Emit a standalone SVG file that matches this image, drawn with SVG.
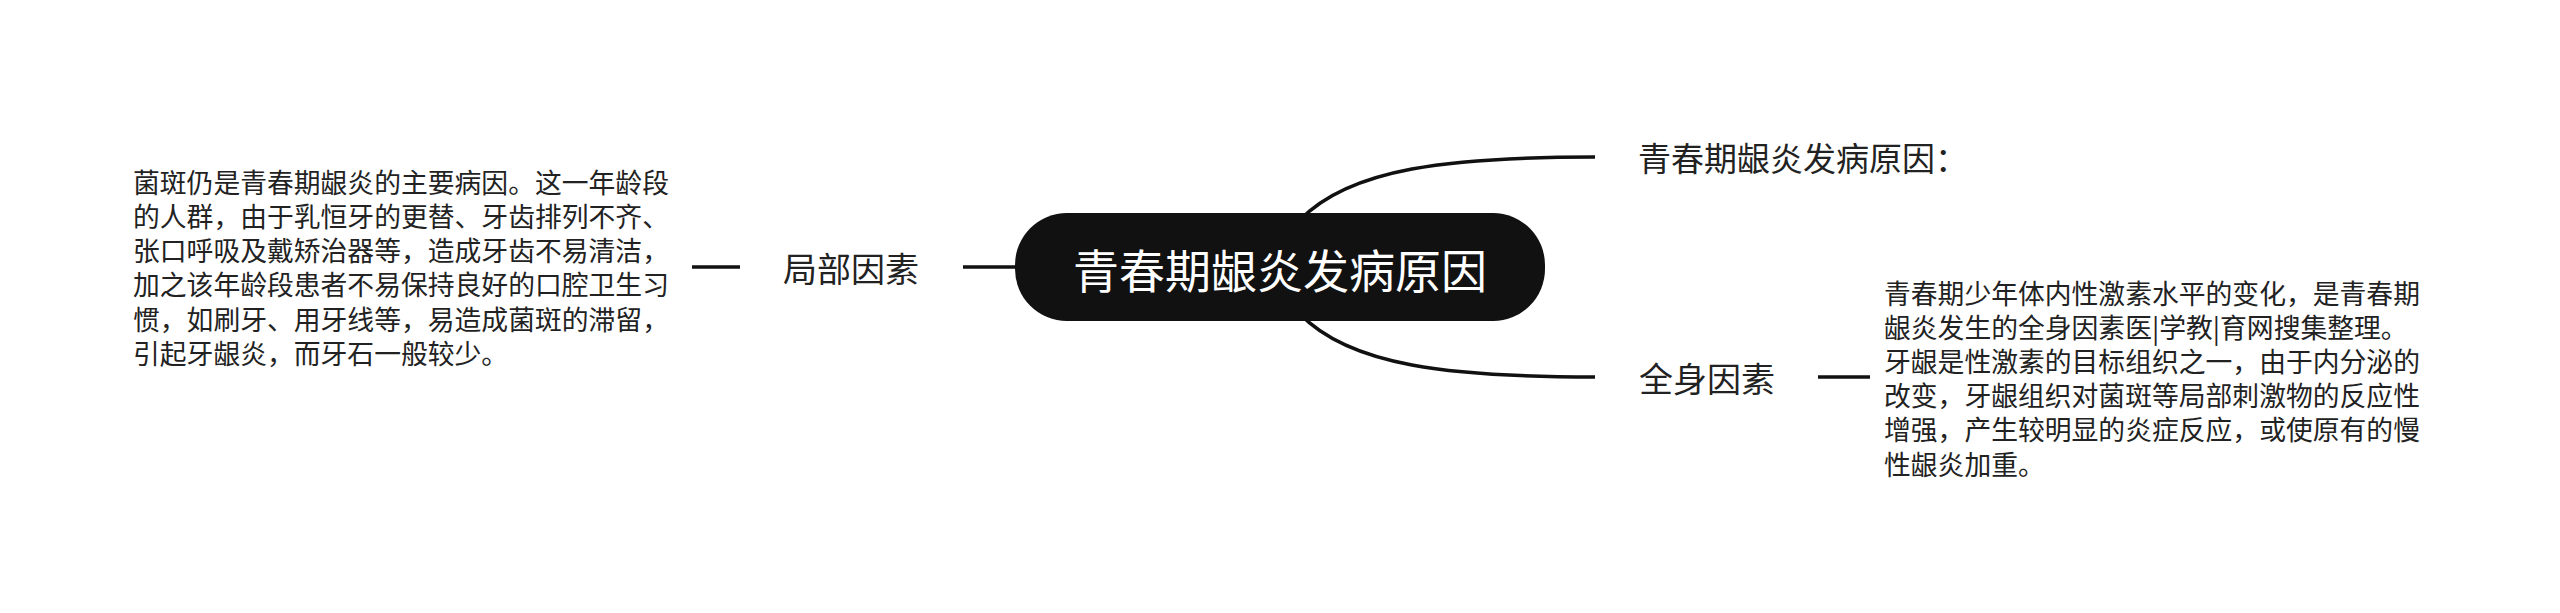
<svg xmlns="http://www.w3.org/2000/svg" width="2560" height="613" viewBox="0 0 2560 613">
<style>
.t{font-family:"Noto Sans CJK SC","Noto Sans",sans-serif;fill:#222;dominant-baseline:central}
.p{font-size:26.8px}
.c{fill:none;stroke:#111;stroke-width:3.5;stroke-linecap:butt}
</style>
<rect width="2560" height="613" fill="#fff"/>
<g id="connectors">
<path class="c" d="M1300,220 C1350,168 1450,157 1595,157"/>
<path class="c" d="M1300,314 C1350,366 1450,377 1595,377"/>
<path class="c" d="M963,267 L1020,267"/>
<path class="c" d="M692,267 L740,267"/>
<path class="c" d="M1818,377 L1870,377"/>
</g>
<g id="root">
<rect x="1015" y="213" width="530" height="108" rx="52" fill="#111"/>
<text class="t" x="1280" y="268" font-size="46" text-anchor="middle" style="fill:#fff">青春期龈炎发病原因</text>
</g>
<g id="node-local">
<text class="t" x="851" y="267" font-size="34" text-anchor="middle">局部因素</text>
</g>
<g id="node-local-detail">
<text class="t p" x="133" y="181">菌斑仍是青春期龈炎的主要病因。这一年龄段</text>
<text class="t p" x="133" y="215.3">的人群，由于乳恒牙的更替、牙齿排列不齐、</text>
<text class="t p" x="133" y="249.6">张口呼吸及戴矫治器等，造成牙齿不易清洁，</text>
<text class="t p" x="133" y="283.9">加之该年龄段患者不易保持良好的口腔卫生习</text>
<text class="t p" x="133" y="318.2">惯，如刷牙、用牙线等，易造成菌斑的滞留，</text>
<text class="t p" x="133" y="352.5">引起牙龈炎，而牙石一般较少。</text>
</g>
<g id="node-title">
<text class="t" x="1638" y="157" font-size="33">青春期龈炎发病原因：</text>
</g>
<g id="node-systemic">
<text class="t" x="1707" y="377" font-size="34" text-anchor="middle">全身因素</text>
</g>
<g id="node-systemic-detail">
<text class="t p" x="1884" y="292">青春期少年体内性激素水平的变化，是青春期</text>
<text class="t p" x="1884" y="326.2">龈炎发生的全身因素医|学教|育网搜集整理。</text>
<text class="t p" x="1884" y="360.4">牙龈是性激素的目标组织之一，由于内分泌的</text>
<text class="t p" x="1884" y="394.6">改变，牙龈组织对菌斑等局部刺激物的反应性</text>
<text class="t p" x="1884" y="428.8">增强，产生较明显的炎症反应，或使原有的慢</text>
<text class="t p" x="1884" y="463">性龈炎加重。</text>
</g>
</svg>
